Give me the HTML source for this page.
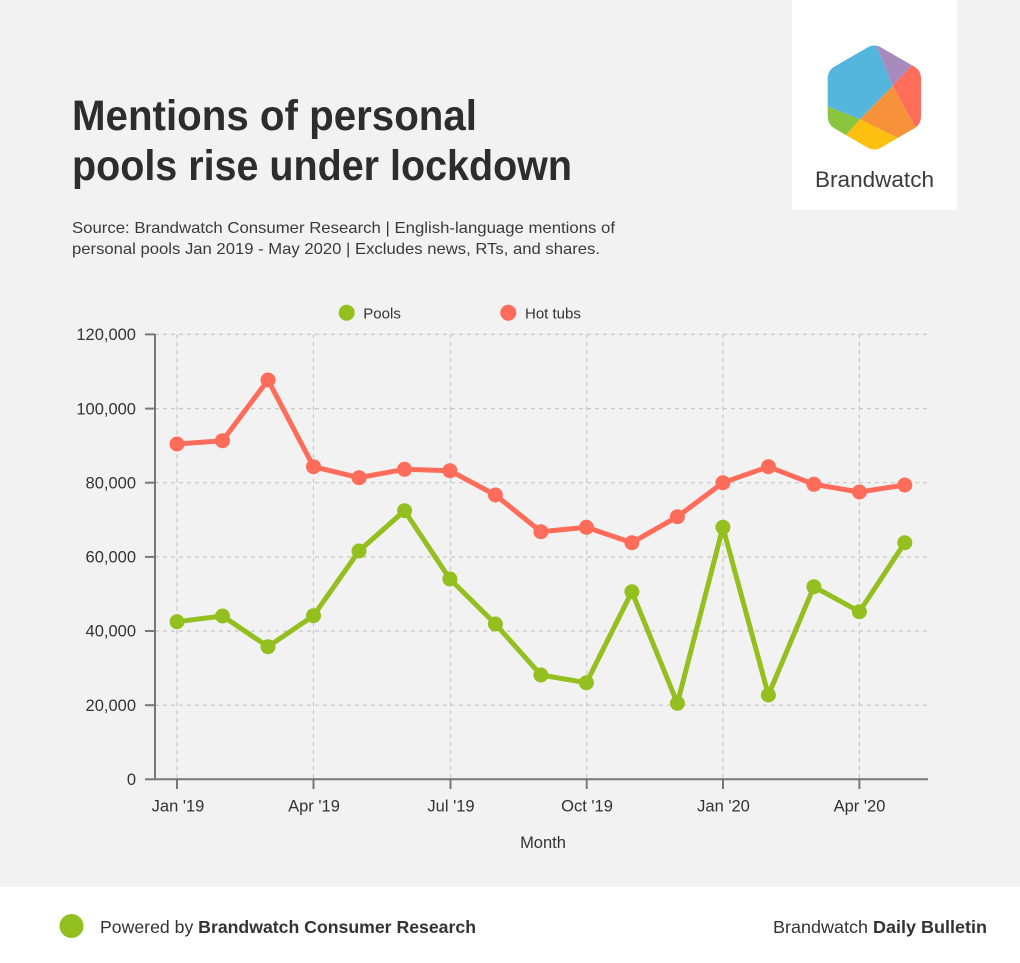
<!DOCTYPE html>
<html>
<head>
<meta charset="utf-8">
<style>
  html,body{margin:0;padding:0;background:#f2f2f2;}
  body{width:1020px;height:963px;overflow:hidden;}
  svg{display:block;font-family:"Liberation Sans",Arial,sans-serif;}
</style>
</head>
<body>
<svg width="1020" height="963" viewBox="0 0 1020 963" xmlns="http://www.w3.org/2000/svg">
  <rect x="0" y="0" width="1020" height="963" fill="#f2f2f2"/>

  <!-- Logo box -->
  <rect x="792" y="0" width="165" height="210" fill="#ffffff"/>
  <defs>
    <clipPath id="hex">
      <path d="M 867.4,47.5 Q 874.3,43.5 881.2,47.5 L 914.1,66.5 Q 921,70.5 921,78.5 L 921,116.5 Q 921,124.5 914.1,128.5 L 881.2,147.5 Q 874.3,151.5 867.4,147.5 L 834.6,128.5 Q 827.7,124.5 827.7,116.5 L 827.7,78.5 Q 827.7,70.5 834.6,66.5 Z"/>
    </clipPath>
  </defs>
  <g clip-path="url(#hex)">
    <polygon points="870,30 805,30 805,97.3 860,119.3 892.7,86" fill="#54b5dd"/>
    <polygon points="870,30 892.7,86 925,51 930,30" fill="#a88bbd"/>
    <polygon points="925,51 892.7,86 930,153 945,153 945,40" fill="#fe6c5a"/>
    <polygon points="892.7,86 930,153 916,147 860,119.3" fill="#f7913a"/>
    <polygon points="860,119.3 916,147 874,178 832,151" fill="#fec010"/>
    <polygon points="860,119.3 832,151 805,151 805,97.3" fill="#8bc43f"/>
  </g>
  <text x="874.5" y="187" font-size="22" fill="#3b3b3b" text-anchor="middle" textLength="119" lengthAdjust="spacingAndGlyphs">Brandwatch</text>

  <!-- Title -->
  <text x="72" y="130" font-size="43" font-weight="bold" fill="#2d2d2d" textLength="405" lengthAdjust="spacingAndGlyphs">Mentions of personal</text>
  <text x="72" y="180" font-size="43" font-weight="bold" fill="#2d2d2d" textLength="500" lengthAdjust="spacingAndGlyphs">pools rise under lockdown</text>

  <!-- Subtitle -->
  <text x="72" y="233" font-size="16" fill="#3a3a3a" textLength="543" lengthAdjust="spacingAndGlyphs">Source: Brandwatch Consumer Research | English-language mentions of</text>
  <text x="72" y="254" font-size="16" fill="#3a3a3a" textLength="528" lengthAdjust="spacingAndGlyphs">personal pools Jan 2019 - May 2020 | Excludes news, RTs, and shares.</text>

  <!-- Legend -->
  <circle cx="346.7" cy="312.7" r="8" fill="#93bf1f"/>
  <text x="363.3" y="318.3" font-size="15" fill="#333">Pools</text>
  <circle cx="508.3" cy="312.7" r="8" fill="#ff6c59"/>
  <text x="525" y="318.3" font-size="15" fill="#333">Hot tubs</text>

  <!-- Grid -->
  <g stroke="#c6c6c6" stroke-width="1.2" stroke-dasharray="4 4" fill="none">
    <line x1="155" y1="334.4" x2="928" y2="334.4"/>
    <line x1="155" y1="408.6" x2="928" y2="408.6"/>
    <line x1="155" y1="482.7" x2="928" y2="482.7"/>
    <line x1="155" y1="556.9" x2="928" y2="556.9"/>
    <line x1="155" y1="631" x2="928" y2="631"/>
    <line x1="155" y1="705.2" x2="928" y2="705.2"/>
    <line x1="177" y1="334.4" x2="177" y2="779"/>
    <line x1="313.5" y1="334.4" x2="313.5" y2="779"/>
    <line x1="450.5" y1="334.4" x2="450.5" y2="779"/>
    <line x1="586.7" y1="334.4" x2="586.7" y2="779"/>
    <line x1="723" y1="334.4" x2="723" y2="779"/>
    <line x1="859.4" y1="334.4" x2="859.4" y2="779"/>
  </g>

  <!-- Axes -->
  <g stroke="#777" stroke-width="2" fill="none">
    <line x1="155" y1="334" x2="155" y2="780"/>
    <line x1="154" y1="779.3" x2="928" y2="779.3"/>
    <line x1="145" y1="334.4" x2="155" y2="334.4"/>
    <line x1="145" y1="408.6" x2="155" y2="408.6"/>
    <line x1="145" y1="482.7" x2="155" y2="482.7"/>
    <line x1="145" y1="556.9" x2="155" y2="556.9"/>
    <line x1="145" y1="631" x2="155" y2="631"/>
    <line x1="145" y1="705.2" x2="155" y2="705.2"/>
    <line x1="145" y1="779.3" x2="155" y2="779.3"/>
    <line x1="177" y1="779" x2="177" y2="789"/>
    <line x1="313.5" y1="779" x2="313.5" y2="789"/>
    <line x1="450.5" y1="779" x2="450.5" y2="789"/>
    <line x1="586.7" y1="779" x2="586.7" y2="789"/>
    <line x1="723" y1="779" x2="723" y2="789"/>
    <line x1="859.4" y1="779" x2="859.4" y2="789"/>
  </g>

  <!-- Y labels -->
  <g font-size="16.5" fill="#333" text-anchor="end">
    <text x="136" y="340">120,000</text>
    <text x="136" y="414.3">100,000</text>
    <text x="136" y="488.4">80,000</text>
    <text x="136" y="562.6">60,000</text>
    <text x="136" y="636.7">40,000</text>
    <text x="136" y="710.9">20,000</text>
    <text x="136" y="785">0</text>
  </g>

  <!-- X labels -->
  <g font-size="16.5" fill="#333" text-anchor="middle">
    <text x="178" y="811.7">Jan '19</text>
    <text x="314" y="811.7">Apr '19</text>
    <text x="451" y="811.7">Jul '19</text>
    <text x="587" y="811.7">Oct '19</text>
    <text x="723.5" y="811.7">Jan '20</text>
    <text x="859.5" y="811.7">Apr '20</text>
    <text x="543" y="848">Month</text>
  </g>

  <!-- Hot tubs -->
  <polyline fill="none" stroke="#ff6c59" stroke-width="5" stroke-linejoin="round"
    points="177,444 222.5,440.7 268,380 313.5,466.7 359,477.7 404.5,469.3 449.9,470.7 495.4,495 540.9,531.7 586.4,527.3 631.9,542.7 677.4,516.7 722.9,482.7 768.4,466.7 813.9,484.3 859.4,492 904.8,485"/>
  <g fill="#ff6c59">
    <circle cx="177" cy="444" r="7.5"/><circle cx="222.5" cy="440.7" r="7.5"/><circle cx="268" cy="380" r="7.5"/>
    <circle cx="313.5" cy="466.7" r="7.5"/><circle cx="359" cy="477.7" r="7.5"/><circle cx="404.5" cy="469.3" r="7.5"/>
    <circle cx="449.9" cy="470.7" r="7.5"/><circle cx="495.4" cy="495" r="7.5"/><circle cx="540.9" cy="531.7" r="7.5"/>
    <circle cx="586.4" cy="527.3" r="7.5"/><circle cx="631.9" cy="542.7" r="7.5"/><circle cx="677.4" cy="516.7" r="7.5"/>
    <circle cx="722.9" cy="482.7" r="7.5"/><circle cx="768.4" cy="466.7" r="7.5"/><circle cx="813.9" cy="484.3" r="7.5"/>
    <circle cx="859.4" cy="492" r="7.5"/><circle cx="904.8" cy="485" r="7.5"/>
  </g>

  <!-- Pools -->
  <polyline fill="none" stroke="#93bf1f" stroke-width="5" stroke-linejoin="round"
    points="177,621.7 222.5,616 268,646.7 313.5,615.7 359,551 404.5,510.7 449.9,579 495.4,624 540.9,675 586.4,682.7 631.9,591.7 677.4,703.3 722.9,527.3 768.4,695 813.9,586.7 859.4,611.7 904.8,542.7"/>
  <g fill="#93bf1f">
    <circle cx="177" cy="621.7" r="7.5"/><circle cx="222.5" cy="616" r="7.5"/><circle cx="268" cy="646.7" r="7.5"/>
    <circle cx="313.5" cy="615.7" r="7.5"/><circle cx="359" cy="551" r="7.5"/><circle cx="404.5" cy="510.7" r="7.5"/>
    <circle cx="449.9" cy="579" r="7.5"/><circle cx="495.4" cy="624" r="7.5"/><circle cx="540.9" cy="675" r="7.5"/>
    <circle cx="586.4" cy="682.7" r="7.5"/><circle cx="631.9" cy="591.7" r="7.5"/><circle cx="677.4" cy="703.3" r="7.5"/>
    <circle cx="722.9" cy="527.3" r="7.5"/><circle cx="768.4" cy="695" r="7.5"/><circle cx="813.9" cy="586.7" r="7.5"/>
    <circle cx="859.4" cy="611.7" r="7.5"/><circle cx="904.8" cy="542.7" r="7.5"/>
  </g>

  <!-- Footer -->
  <rect x="0" y="887" width="1020" height="76" fill="#ffffff"/>
  <circle cx="71.5" cy="926" r="12" fill="#93bf1f"/>
  <text x="100" y="933" font-size="17.5" fill="#333" textLength="376" lengthAdjust="spacingAndGlyphs">Powered by <tspan font-weight="bold">Brandwatch Consumer Research</tspan></text>
  <text x="773" y="933" font-size="17.5" fill="#333" textLength="214" lengthAdjust="spacingAndGlyphs">Brandwatch <tspan font-weight="bold">Daily Bulletin</tspan></text>
</svg>
</body>
</html>
